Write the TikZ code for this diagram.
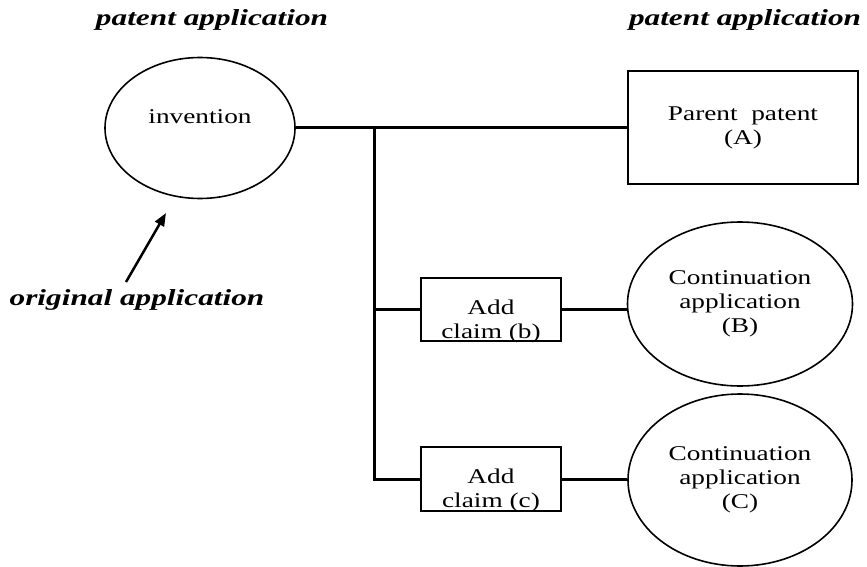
\documentclass[tikz,border=0pt]{standalone}
\usepackage{fontspec}
\setmainfont{Liberation Serif}
\newfontfamily\spaced[FakeStretch=1.3]{Liberation Serif}
\newfontfamily\spacedtitle[FakeStretch=1.36]{Liberation Serif}
\usetikzlibrary{shapes.geometric,arrows.meta}
\begin{document}
\begin{tikzpicture}[x=1pt,y=-1pt,
  body/.style={font=\spaced\fontsize{21}{24}\selectfont, align=center, inner sep=0pt},
  title/.style={font=\spacedtitle\fontsize{23}{26}\selectfont\bfseries\itshape, inner sep=0pt},
  oval/.style={draw, ellipse, line width=1.6pt, inner sep=0pt},
  boxed/.style={draw, rectangle, line width=1.6pt, inner sep=0pt},
  conn/.style={line width=3pt}]
\useasboundingbox (0,0) rectangle (867,567);
% titles
\node[title] (t1) at (212,20) {patent application};
\node[title] (t2) at (745,20) {patent application};
\node[title] (t3) at (137,300) {original application};
% invention
\node[oval, minimum width=190pt, minimum height=141pt] (inv) at (200,128) {};
\node[body] (invt) at (200,117) {invention};
% parent patent
\node[boxed, minimum width=230pt, minimum height=113pt, body, draw, line width=1.6pt] (pA) at (743,127.5) {Parent\ \ patent\\(A)};
% add claim boxes
\node[boxed, minimum width=140pt, minimum height=63pt] (bb) at (491,309.5) {};
\node[body] (bbt) at (491,321) {Add\\claim (b)};
\node[boxed, minimum width=140pt, minimum height=64pt] (bc) at (491,479) {};
\node[body] (bct) at (491,490) {Add\\claim (c)};
% continuation ellipses
\node[oval, minimum width=225pt, minimum height=164pt, body, draw, line width=1.6pt] (cB) at (740,304) {Continuation\\application\\(B)};
\node[oval, minimum width=224pt, minimum height=172pt, body, draw, line width=1.6pt] (cC) at (740,480) {Continuation\\application\\(C)};
% connectors
\coordinate (j1) at (374,127);
\draw[conn] (inv.east) -- (inv.east -| pA.west);
\draw[conn] (j1) |- (bc.west);
\draw[conn] (j1 |- bb.west) -- (bb.west);
\draw[conn] (bb.east) -- (bb.east -| cB.west);
\draw[conn] (bc.east) -- (bc.east -| cC.west);
% arrow
\coordinate (aS) at (126,282);
\coordinate (aE) at (166,213);
\draw[line width=2.5pt, -{Triangle[length=13pt,width=10pt]}] (aS) -- (aE);
\end{tikzpicture}
\end{document}
